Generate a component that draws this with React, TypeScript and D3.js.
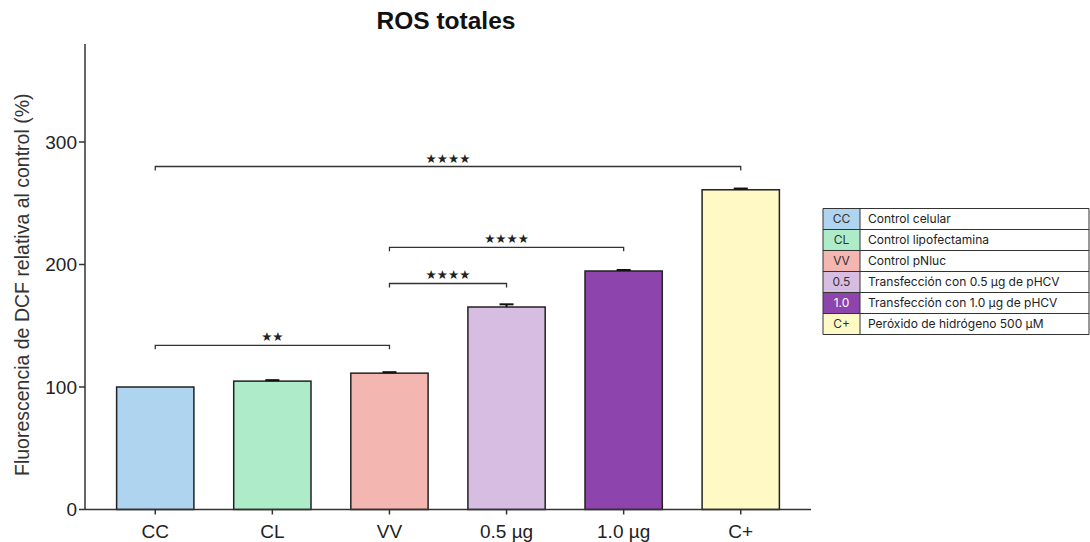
import React from "react";
import * as d3 from "d3";

const categories = ["CC", "CL", "VV", "0.5 µg", "1.0 µg", "C+"];
const values = [100, 104.8, 111.3, 165.3, 194.7, 261];
const errors = [0, 0.8, 0.8, 2.2, 0.8, 1];
const colors = ["#afd4ef", "#aeebc8", "#f4b6b0", "#d7bde2", "#8e44ad", "#fef9c5"];
const legendCodes = ["CC", "CL", "VV", "0.5", "1.0", "C+"];
const legendLabels = [
  "Control celular",
  "Control lipofectamina",
  "Control pNluc",
  "Transfección con 0.5 µg de pHCV",
  "Transfección con 1.0 µg de pHCV",
  "Peróxido de hidrógeno 500 µM",
];
const yTicks = [0, 100, 200, 300];
const comparisons = [
  { from: 0, to: 5, y: 280, label: "★★★★" },
  { from: 2, to: 4, y: 214, label: "★★★★" },
  { from: 2, to: 3, y: 184.5, label: "★★★★" },
  { from: 0, to: 2, y: 134, label: "★★" },
];

export default function App() {
  const W = 1090, H = 542;
  const x0 = 85, x1 = 811, yBase = 509.5, yTop = 44;
  const x = d3.scaleBand<string>().domain(categories).range([x0, x1]).paddingInner(0.34).paddingOuter(0.27);
  const y = d3.scaleLinear().domain([0, 380]).range([yBase, yTop]);
  const cx = (i: number) => (x(categories[i]) as number) + x.bandwidth() / 2;
  const axisColor = "#333";
  const legendX = 823, legendY = 208.5, rowH = 21, codeW = 37, legendW = 266;

  return (
    <svg width={W} height={H} style={{ position: "absolute", left: 0, top: 0, background: "#fff" }}
      fontFamily="'Liberation Sans', Arial, sans-serif">
      <text x={446} y={29} textAnchor="middle" fontSize={24.5} fontWeight="bold" fill="#111">ROS totales</text>

      {/* bars */}
      {categories.map((c, i) => (
        <g key={c}>
          <rect x={x(c)} y={y(values[i])} width={x.bandwidth()} height={yBase - y(values[i])}
            fill={colors[i]} stroke="#222" strokeWidth={1.5} />
          {errors[i] > 0 && (
            <g stroke="#111" strokeWidth={2}>
              <line x1={cx(i)} x2={cx(i)} y1={y(values[i])} y2={y(values[i] + errors[i])} />
              <line x1={cx(i) - 7} x2={cx(i) + 7} y1={y(values[i] + errors[i])} y2={y(values[i] + errors[i])} />
            </g>
          )}
        </g>
      ))}

      {/* axes */}
      <line x1={x0} x2={x0} y1={yTop} y2={yBase} stroke={axisColor} strokeWidth={1.5} />
      <line x1={x0} x2={x1} y1={yBase} y2={yBase} stroke={axisColor} strokeWidth={1.5} />
      {yTicks.map((t) => (
        <g key={t}>
          <line x1={x0 - 6} x2={x0} y1={y(t)} y2={y(t)} stroke={axisColor} strokeWidth={1.5} />
          <text x={x0 - 8} y={y(t)} dy="0.36em" textAnchor="end" fontSize={19} fill="#222">{t}</text>
        </g>
      ))}
      {categories.map((c, i) => (
        <g key={c}>
          <line x1={cx(i)} x2={cx(i)} y1={yBase} y2={yBase + 5} stroke={axisColor} strokeWidth={1.5} />
          <text x={cx(i)} y={538} textAnchor="middle" fontSize={19} fill="#222">{c}</text>
        </g>
      ))}
      <text transform={`translate(29,${(yTop + yBase) / 2 + 8}) rotate(-90)`} textAnchor="middle" fontSize={19.5} fill="#333">
        Fluorescencia de DCF relativa al control (%)
      </text>

      {/* significance brackets */}
      {comparisons.map((cmp, k) => {
        const yy = y(cmp.y);
        const a = cx(cmp.from), b = cx(cmp.to);
        return (
          <g key={k}>
            <path d={`M${a},${yy + 4}V${yy}H${b}V${yy + 4}`} fill="none" stroke="#333" strokeWidth={1.3} />
            <text x={(a + b) / 2} y={yy - 4} textAnchor="middle" fontSize={12.5}
              fontFamily="'DejaVu Sans', sans-serif" fill="#222">{cmp.label}</text>
          </g>
        );
      })}

      {/* legend */}
      <g fontFamily="Inter, 'Noto Sans', sans-serif" fontSize={12}>
        {legendCodes.map((code, i) => (
          <g key={code}>
            <rect x={legendX} y={legendY + i * rowH} width={codeW} height={rowH} fill={colors[i]} />
            <rect x={legendX + codeW} y={legendY + i * rowH} width={legendW - codeW} height={rowH} fill="#fff" />
            <text x={legendX + codeW / 2} y={legendY + i * rowH + rowH / 2} dy="0.35em" textAnchor="middle"
              fill={i === 4 ? "#fff" : "#333"}>{code}</text>
            <text x={legendX + codeW + 8} y={legendY + i * rowH + rowH / 2} dy="0.35em" fill="#222">{legendLabels[i]}</text>
            <line x1={legendX} x2={legendX + legendW} y1={legendY + i * rowH} y2={legendY + i * rowH} stroke="#333" strokeWidth={1} />
          </g>
        ))}
        <line x1={legendX} x2={legendX + legendW} y1={legendY + 6 * rowH} y2={legendY + 6 * rowH} stroke="#333" strokeWidth={1} />
        <line x1={legendX} x2={legendX} y1={legendY} y2={legendY + 6 * rowH} stroke="#333" strokeWidth={1} />
        <line x1={legendX + codeW} x2={legendX + codeW} y1={legendY} y2={legendY + 6 * rowH} stroke="#333" strokeWidth={1} />
        <line x1={legendX + legendW} x2={legendX + legendW} y1={legendY} y2={legendY + 6 * rowH} stroke="#333" strokeWidth={1} />
      </g>
    </svg>
  );
}
